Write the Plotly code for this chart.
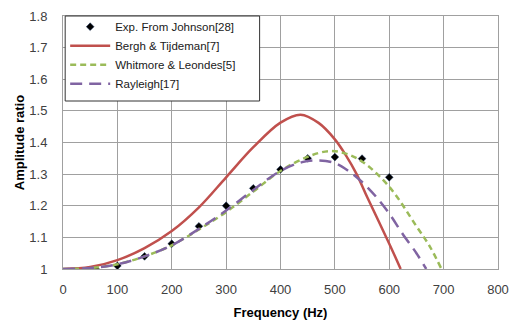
import plotly.graph_objects as go

exp_f = [60, 100, 150, 200, 250, 300, 350, 400, 450, 500, 550, 600]
exp_a = [1.0, 1.01, 1.04, 1.08, 1.135, 1.2, 1.255, 1.315, 1.35, 1.354, 1.349, 1.29]

bergh_f = [0, 50, 100, 150, 200, 250, 300, 350, 400, 437, 470, 500, 520, 540, 560, 600, 621]
bergh_a = [1.0, 1.006, 1.028, 1.066, 1.12, 1.195, 1.29, 1.385, 1.463, 1.488, 1.462, 1.41, 1.36, 1.30, 1.225, 1.08, 1.0]

whit_f = [0, 50, 100, 150, 200, 250, 300, 350, 400, 450, 490, 520, 550, 600, 650, 675, 696]
whit_a = [1.0, 1.003, 1.015, 1.04, 1.075, 1.125, 1.18, 1.245, 1.31, 1.355, 1.373, 1.365, 1.34, 1.26, 1.135, 1.07, 1.0]

ray_f = [0, 50, 100, 150, 200, 250, 300, 350, 400, 440, 470, 500, 525, 550, 575, 600, 625, 650, 668]
ray_a = [1.0, 1.003, 1.015, 1.04, 1.075, 1.127, 1.185, 1.25, 1.31, 1.338, 1.343, 1.335, 1.31, 1.275, 1.23, 1.175, 1.11, 1.05, 1.0]

font = "Liberation Sans"

fig = go.Figure()
fig.add_trace(go.Scatter(x=exp_f, y=exp_a, mode="markers", name="Exp. From Johnson[28]",
                         marker=dict(symbol="diamond", size=6, color="black",
                                     line=dict(width=0.5, color="#1f3864"))))
fig.add_trace(go.Scatter(x=bergh_f, y=bergh_a, mode="lines", name="Bergh & Tijdeman[7]",
                         line=dict(color="#C0504D", width=2.5, shape="spline")))
fig.add_trace(go.Scatter(x=whit_f, y=whit_a, mode="lines", name="Whitmore & Leondes[5]",
                         line=dict(color="#9BBB59", width=2.5, shape="spline", dash="6px,4px")))
fig.add_trace(go.Scatter(x=ray_f, y=ray_a, mode="lines", name="Rayleigh[17]",
                         line=dict(color="#8064A2", width=2.5, shape="spline", dash="12px,7px")))

axis_common = dict(showgrid=True, gridcolor="#A0A0A0", gridwidth=1, showline=True,
                   linecolor="#A0A0A0", linewidth=1, mirror=True, zeroline=False,
                   automargin=False,
                   ticks="", tickfont=dict(family=font, size=13, color="#404040"))

fig.update_layout(
    width=519, height=324,
    margin=dict(l=63, r=21, t=13, b=55),
    paper_bgcolor="white", plot_bgcolor="white",
    showlegend=True,
    legend=dict(x=0.005, y=1.015, xanchor="left", yanchor="top",
                bgcolor="rgba(0,0,0,0)", borderwidth=0,
                itemwidth=40, tracegroupgap=0,
                font=dict(family=font, size=11.5, color="#202020")),
    shapes=[dict(type="rect", xref="paper", yref="paper",
                 x0=0.005, x1=0.452, y0=0.664, y1=1.0,
                 line=dict(color="#333333", width=1), fillcolor="white", layer="above")],
    xaxis=dict(range=[0, 800], dtick=100, tick0=0, ticklabelstandoff=8,
               title=dict(text="<b>Frequency (Hz)</b>", font=dict(family=font, size=13, color="black"), standoff=12),
               **axis_common),
    yaxis=dict(range=[1, 1.8], dtick=0.1, tick0=1, ticklabelstandoff=12,
               title=dict(text="<b>Amplitude ratio</b>", font=dict(family=font, size=13, color="black"), standoff=1),
               **axis_common),
)

fig.write_html("out.html")
